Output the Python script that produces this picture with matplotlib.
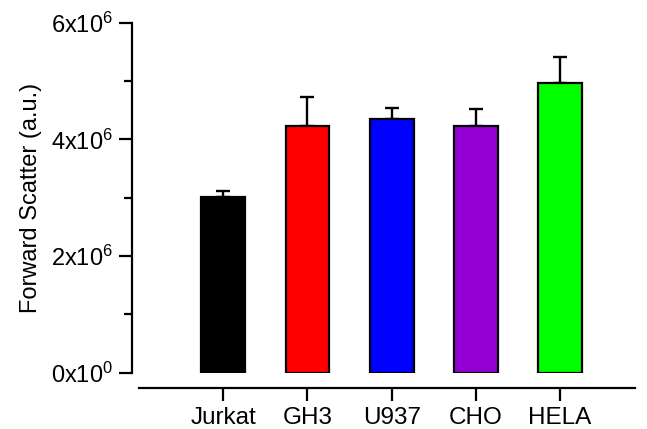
import numpy as np
import matplotlib.pyplot as plt
from matplotlib.ticker import FixedLocator, MultipleLocator

# values
cells = ['Jurkat', 'GH3', 'U937', 'CHO', 'HELA']
fsc = [3.02e6, 4.23e6, 4.35e6, 4.23e6, 4.97e6]
fsc_err = [0.09e6, 0.50e6, 0.18e6, 0.29e6, 0.44e6]
colors = ['#000000', '#ff0000', '#0000ff', '#9400d3', '#00ff00']
ytick_vals = [0, 2e6, 4e6, 6e6]
ytick_labels = ['0x10$^0$', '2x10$^6$', '4x10$^6$', '6x10$^6$']

plt.rcParams['font.family'] = ['Liberation Sans', 'DejaVu Sans']
plt.rcParams['mathtext.fontset'] = 'custom'
plt.rcParams['mathtext.rm'] = 'Liberation Sans'
plt.rcParams['mathtext.default'] = 'regular'

W, H = 647, 429
fig = plt.figure(figsize=(W / 100, H / 100), dpi=100)
ax = fig.add_axes([132 / W, 1 - 372.7 / H, (635 - 132) / W, (372.7 - 22.7) / H])

x = np.arange(len(cells))
ax.bar(x, fsc, width=0.52, color=colors, edgecolor='black', linewidth=1.6, zorder=2)
ax.errorbar(x, fsc, yerr=[np.zeros(len(fsc)), fsc_err], fmt='none', ecolor='black',
            elinewidth=1.7, capsize=5, capthick=1.7, zorder=1)

ax.set_xlim(-1.084, 4.89)
ax.set_ylim(0, 6e6)

for s in ['top', 'right']:
    ax.spines[s].set_visible(False)
ax.spines['left'].set_linewidth(1.6)
ax.spines['bottom'].set_linewidth(1.6)
ax.spines['bottom'].set_position(('outward', 11.2))
ax.spines['bottom'].set_bounds(-1.0, 4.89)

ax.yaxis.set_major_locator(FixedLocator(ytick_vals))
ax.set_yticklabels(ytick_labels, fontsize=17)
ax.yaxis.set_minor_locator(MultipleLocator(1e6))
ax.set_xticks(x)
ax.set_xticklabels(cells, fontsize=17.5)

ax.tick_params(axis='both', which='major', direction='out', length=9.5, width=1.6, pad=4)
ax.tick_params(axis='y', which='minor', direction='out', length=6, width=1.6)
ax.tick_params(axis='x', which='minor', bottom=False)

ax.set_ylabel('Forward Scatter (a.u.)', fontsize=17, labelpad=7)

fig.savefig('out.png', dpi=100)
